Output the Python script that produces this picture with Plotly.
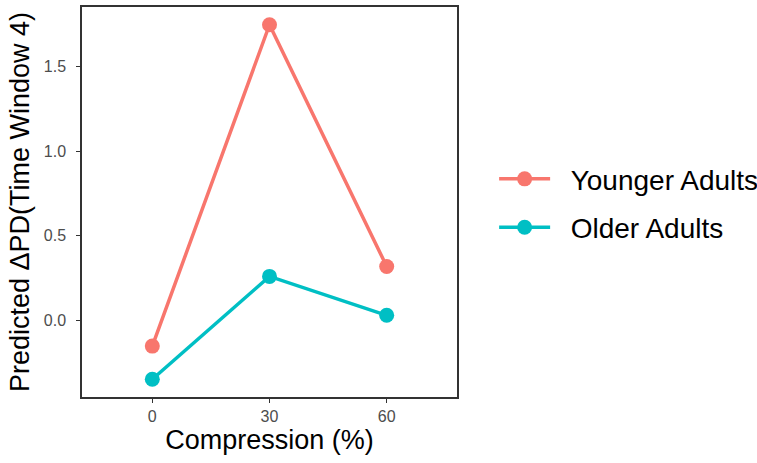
import plotly.graph_objects as go

compression = [0, 30, 60]
younger = [-0.153, 1.747, 0.318]
older = [-0.349, 0.259, 0.029]
series_names = ["Younger Adults", "Older Adults"]
colors = ["#F8766D", "#00BFC4"]
x_ticks = [0, 30, 60]
y_ticks = [0.0, 0.5, 1.0, 1.5]

fig = go.Figure()
for i, (name, vals) in enumerate(zip(series_names, [younger, older])):
    fig.add_trace(go.Scatter(
        x=compression, y=vals, name="\u00a0\u00a0" + name, mode="lines+markers",
        line=dict(color=colors[i], width=3.5),
        marker=dict(color=colors[i], size=15),
        legendgroup=f"g{i}",
    ))

axis_common = dict(
    showgrid=False, zeroline=False, showline=True, linecolor="#333333", linewidth=1.5,
    mirror=True, ticks="outside", ticklen=4, tickwidth=1.2, tickcolor="#333333",
    tickfont=dict(family="Liberation Sans, Arial", size=16, color="#4D4D4D"),
    title_font=dict(family="Liberation Sans, Arial", size=27, color="black"),
)

fig.update_layout(
    width=757, height=463,
    margin=dict(l=82, r=300, t=7, b=66, autoexpand=False),
    plot_bgcolor="white", paper_bgcolor="white",
    xaxis=dict(range=[-18, 78], tickvals=x_ticks, title=dict(text="Compression (%)", standoff=6), **axis_common),
    yaxis=dict(range=[-0.454, 1.852], tickvals=y_ticks, tickformat=".1f", ticklabelstandoff=7,
               title=dict(text="Predicted ΔPD(Time Window 4)", standoff=6), **axis_common),
    legend=dict(x=1.099, y=0.497, xanchor="left", yanchor="middle",
                font=dict(family="Liberation Sans, Arial", size=28, color="black"),
                tracegroupgap=9, itemwidth=51, bgcolor="rgba(0,0,0,0)"),
)

fig.write_html("out.html", config={"displayModeBar": False},
               post_script="document.body.style.margin='0';")
